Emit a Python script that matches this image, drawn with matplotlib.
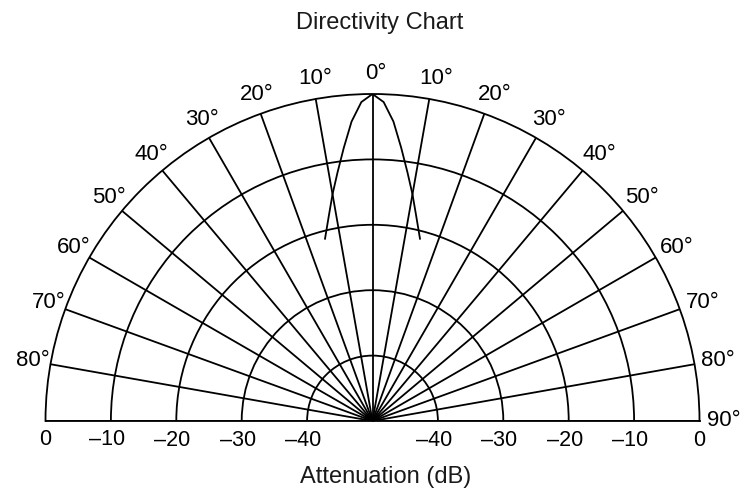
import numpy as np
import matplotlib
matplotlib.use("Agg")
import matplotlib.pyplot as plt
from matplotlib.transforms import offset_copy

plt.rcParams['font.family'] = ['Liberation Sans', 'DejaVu Sans']

# Beam pattern (angle in degrees, attenuation in dB)
beam_angle = [-14.6, -12, -10, -8, -6, -4, -2, 0, 2, 4, 6, 8, 10, 12, 14.6]
beam_db = [-21.2, -17.9, -14.8, -11.6, -8.0, -4.1, -1.2, 0,
           -1.2, -4.1, -8.0, -11.6, -14.8, -17.9, -21.2]

# Grid / tick values
ring_db = [-40, -30, -20, -10]
spoke_deg = list(range(-90, 91, 10))
angle_labels = [-80, -70, -60, -50, -40, -30, -20, -10, 0,
                10, 20, 30, 40, 50, 60, 70, 80, 90]
db_labels = [0, -10, -20, -30, -40]

fig = plt.figure(figsize=(7.45, 4.92), dpi=100)
# square box: the half-disc is centred vertically inside it
ax = fig.add_axes([45.5 / 745, -92.5 / 492, 654 / 745, 654 / 492], projection='polar')
ax.set_theta_zero_location('N')
ax.set_theta_direction(-1)
ax.set_thetamin(-90)
ax.set_thetamax(90)
ax.set_rlim(-50, 0)

lw = 1.3
# rings and spokes
ax.set_rgrids(ring_db, labels=[''] * len(ring_db))
ax.set_thetagrids(spoke_deg, labels=[''] * len(spoke_deg))
ax.grid(True, color='black', linewidth=lw)
ax.tick_params(length=0)
for sp in ax.spines.values():
    sp.set_color('black')
    sp.set_linewidth(lw)

# beam curve
ax.plot(np.radians(beam_angle), beam_db, color='black', linewidth=lw)

# angle labels outside the outer ring
lab_tr = offset_copy(ax.transData, fig=fig, x=3, y=0, units='dots')
for a in angle_labels:
    ax.text(np.radians(a), 3.2, f"{abs(a)}°", transform=lab_tr,
            ha='center', va='center', fontsize=16, clip_on=False)

# attenuation labels along the base line
zero_tr = offset_copy(ax.transData, fig=fig, x=0, y=-19, units='dots')
base_tr = offset_copy(ax.transData, fig=fig, x=-4, y=-19, units='dots')
for side in (-90, 90):
    for d in db_labels:
        if d == 0:
            ax.text(np.radians(side), d, "0", transform=zero_tr,
                    ha='center', va='center', fontsize=15.5, clip_on=False)
        else:
            ax.text(np.radians(side), d, f"\u2013{abs(d)}", transform=base_tr,
                    ha='center', va='center', fontsize=15.5, clip_on=False)

fig.text(380 / 745, 1 - 23 / 492, "Directivity Chart", ha='center', va='center',
         fontsize=17, color='#1a1a1a')
fig.text(386 / 745, 1 - 477 / 492, "Attenuation (dB)", ha='center', va='center',
         fontsize=17, color='#1a1a1a')

fig.savefig("out.png", dpi=100)
